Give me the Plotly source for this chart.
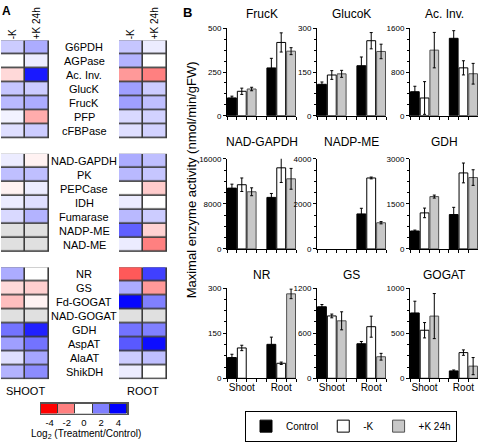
import plotly.graph_objects as go

W, H = 478, 446
FONT = "Liberation Sans, Arial, sans-serif"

# ---------------- Panel A data (log2 Treatment/Control) ----------------
hm_groups = [
    ["G6PDH", "AGPase", "Ac. Inv.", "GlucK", "FrucK", "PFP", "cFBPase"],
    ["NAD-GAPDH", "PK", "PEPCase", "IDH", "Fumarase", "NADP-ME", "NAD-ME"],
    ["NR", "GS", "Fd-GOGAT", "NAD-GOGAT", "GDH", "AspAT", "AlaAT", "ShikDH"],
]
hm_columns = ["-K", "+K 24h"]
tissue_labels = ["SHOOT", "ROOT"]
shoot_minusK = [0.8, 0.0, -0.6, 0.9, 1.1, 0.2, 0.5,
                0.3, 1.0, -0.2, 0.3, 0.6, None, None,
                1.3, -0.6, -1.0, None, 2.2, 1.5, 0.5, 1.2]
shoot_plusK = [1.3, 0.3, 3.6, 0.8, 1.3, -1.3, 0.8,
               -0.2, 1.0, 0.3, 0.5, 1.2, None, None,
               0.0, -0.75, -0.2, None, 3.5, 2.2, 1.4, 1.8]
root_minusK = [0.9, 1.2, -1.6, 1.5, 1.5, 0.6, 0.5,
               1.3, 1.1, 0.0, 0.3, 1.1, 2.5, 0.3,
               -2.6, 1.3, 3.9, None, 2.2, 2.6, 0.8, 0.3]
root_plusK = [0.3, 0.0, -2.0, 0.8, 1.0, 0.7, 0.7,
              1.0, 0.9, -0.8, 0.0, 0.8, -0.7, -2.0,
              3.0, -1.6, 2.0, None, 2.0, 3.8, 1.0, 0.0]
legend_vals = [-4, -2, 0, 2, 4]

# ---------------- Panel B data (nmol/min/gFW) ----------------
bar_enzymes = ["FrucK", "GlucoK", "Ac. Inv.", "NAD-GAPDH", "NADP-ME", "GDH",
               "NR", "GS", "GOGAT"]
tissues = ["Shoot", "Root"]
conditions = ["Control", "-K", "+K 24h"]
axis_max = [500, 300, 1600, 16000, 4000, 3000, 300, 1200, 1000]
control_mean = [[102, 274], [108, 172], [440, 1420], [10800, 9150], [None, 1555],
                [598, 1145], [69, 113], [952, 460], [725, 82]]
control_err = [[10, 55], [8, 30], [100, 140], [700, 700], [None, 250],
               [30, 240], [11, 24], [30, 30], [130, 10]]
minusK_mean = [[140, 420], [140, 258], [325, 878], [11400, 14400], [None, 3150],
               [1200, 2530], [101, 50], [830, 687], [533, 285]]
minusK_err = [[18, 55], [15, 28], [300, 130], [1200, 2600], [None, 40],
              [160, 330], [9, 4], [25, 140], [85, 30]]
plusK_mean = [[153, 370], [144, 221], [1203, 770], [10150, 12450], [None, 1163],
              [1743, 2376], [None, 281], [765, 287], [690, 135]]
plusK_err = [[10, 20], [12, 25], [325, 190], [700, 1850], [None, 50],
             [50, 260], [None, 16], [120, 45], [250, 95]]


def px_x(p):
    return p / W


def px_y(p):
    return 1 - p / H


def note(text, x, y, size, yref="paper", **kw):
    d = dict(text=text, x=x, y=y, xref="paper", yref=yref, showarrow=False,
             xanchor="center", yanchor="middle", font=dict(size=size))
    d.update(kw)
    return d


fig = go.Figure()
annotations = []
layout = dict(
    width=W, height=H, margin=dict(l=0, r=0, t=0, b=0),
    paper_bgcolor="white", plot_bgcolor="white",
    font=dict(family=FONT, color="black", size=10),
    barmode="overlay", showlegend=True,
)

# ---------------- Panel A heatmaps ----------------
GAP = 1.12
row_pos = []
start = -0.5
for g in hm_groups:
    row_pos.append([start + 0.5 + i for i in range(len(g))])
    start = start + len(g) + GAP
y_bottom = start - GAP

rwb = [[0, "#ff0000"], [0.5, "#ffffff"], [1, "#0000ff"]]
border = [[0, "#3c3c3c"], [1, "#3c3c3c"]]
na_scale = [[0, "#e0e0e0"], [1, "#e0e0e0"]]

tissue_data = [(shoot_minusK, shoot_plusK), (root_minusK, root_plusK)]
hm_domains = [(1, 49), (119, 167)]
for t, (a_vals, b_vals) in enumerate(tissue_data):
    ax = "" if t == 0 else "2"
    off = 0
    for gi, g in enumerate(hm_groups):
        n = len(g)
        av = a_vals[off:off + n]
        bv = b_vals[off:off + n]
        off += n
        fig.add_trace(go.Heatmap(z=[[0, 0] for _ in range(n)], x=[0, 1], y=row_pos[gi],
                                 colorscale=border, showscale=False, hoverinfo="skip",
                                 xaxis="x" + ax, yaxis="y" + ax))
        fig.add_trace(go.Heatmap(z=[[a, b] for a, b in zip(av, bv)], x=[0, 1], y=row_pos[gi],
                                 colorscale=rwb, zmin=-4, zmax=4, showscale=False,
                                 xgap=1.6, ygap=1.6, xaxis="x" + ax, yaxis="y" + ax))
        fig.add_trace(go.Heatmap(z=[[1 if a is None else None, 1 if b is None else None]
                                    for a, b in zip(av, bv)], x=[0, 1], y=row_pos[gi],
                                 colorscale=na_scale, showscale=False, zmin=0, zmax=1,
                                 xgap=1.6, ygap=1.6, xaxis="x" + ax, yaxis="y" + ax))
    d0, d1 = hm_domains[t]
    layout["xaxis" + ax] = dict(domain=[px_x(d0), px_x(d1)], anchor="y" + ax,
                                range=[-0.5, 1.5], side="top", tickvals=[0, 1],
                                ticktext=hm_columns, tickangle=-90, ticks="",
                                showgrid=False, zeroline=False, showline=False,
                                tickfont=dict(size=10), fixedrange=True)
    layout["yaxis" + ax] = dict(domain=[px_y(383), px_y(37)], anchor="x" + ax,
                                range=[y_bottom, -0.5], showticklabels=False,
                                showgrid=False, zeroline=False, ticks="", fixedrange=True)
    annotations.append(note(tissue_labels[t], px_x((d0 + d1) / 2), px_y(395), 11))

# enzyme labels between the two heatmaps
for gi, g in enumerate(hm_groups):
    for name, yv in zip(g, row_pos[gi]):
        annotations.append(note(name, px_x(84), yv, 11, yref="y"))

# colour legend
fig.add_trace(go.Heatmap(z=[[0] * len(legend_vals)], x=legend_vals, y=[0],
                         colorscale=border, showscale=False, hoverinfo="skip",
                         xaxis="x3", yaxis="y3"))
fig.add_trace(go.Heatmap(z=[legend_vals], x=legend_vals, y=[0], colorscale=rwb,
                         zmin=-4, zmax=4, showscale=False, xgap=1, ygap=0,
                         xaxis="x3", yaxis="y3"))
layout["xaxis3"] = dict(domain=[px_x(41), px_x(127)], anchor="y3", range=[-5, 5],
                        tickvals=legend_vals, ticktext=[str(v) for v in legend_vals],
                        ticks="", showline=True, mirror=True, linecolor="#555555",
                        linewidth=1.5, showgrid=False, zeroline=False,
                        tickfont=dict(size=9.5), fixedrange=True)
layout["yaxis3"] = dict(domain=[px_y(418), px_y(408)], anchor="x3", range=[-0.5, 0.5],
                        showticklabels=False, ticks="", showline=True, mirror=True,
                        linecolor="#555555", linewidth=1.5, showgrid=False,
                        zeroline=False, fixedrange=True)
annotations.append(note("Log<sub>2</sub> (Treatment/Control)", px_x(86), px_y(439), 10))

# ---------------- Panel B bar charts ----------------
col_dom = [(227, 296), (317, 386), (410, 478)]
row_dom = [(25, 114), (158, 250), (290, 382)]
title_y = [10, 141, 277]
styles = [("black", "black"), ("white", "black"), ("#c8c8c8", "#505050")]
means = [control_mean, minusK_mean, plusK_mean]
errs = [control_err, minusK_err, plusK_err]

for k, enz in enumerate(bar_enzymes):
    n = 4 + k
    r, c = divmod(k, 3)
    for ci, cond in enumerate(conditions):
        fill, line = styles[ci]
        fig.add_trace(go.Bar(
            x=[ci + 4 * ti for ti in range(len(tissues))], y=means[ci][k],
            width=0.9, name=cond, legendgroup=cond, showlegend=(k == 0),
            marker=dict(color=fill, line=dict(color=line, width=1)),
            error_y=dict(type="data", array=errs[ci][k], color="black",
                         thickness=1, width=1.5),
            xaxis=f"x{n}", yaxis=f"y{n}"))
    x0, x1 = col_dom[c]
    y0, y1 = row_dom[r]
    ymax = axis_max[k]
    layout[f"xaxis{n}"] = dict(
        domain=[px_x(x0), px_x(x1)], anchor=f"y{n}", range=[-0.5, 6.5],
        tickvals=[1 + 4 * ti for ti in range(len(tissues))], ticktext=tissues,
        showticklabels=(r == 2), ticks="", showline=True, linecolor="black",
        linewidth=1, showgrid=False, zeroline=False, tickfont=dict(size=10),
        minor=dict(tickmode="array", tickvals=[i - 0.5 for i in range(8)],
                   ticks="outside", ticklen=3, tickcolor="black", showgrid=False),
        fixedrange=True)
    layout[f"yaxis{n}"] = dict(
        domain=[px_y(y1), px_y(y0)], anchor=f"x{n}", range=[0, ymax],
        tickvals=[0, ymax / 2, ymax], ticktext=[f"{v:g}" for v in (0, ymax / 2, ymax)],
        ticks="outside", ticklen=3, tickcolor="black", showline=True,
        linecolor="black", linewidth=1, showgrid=False, zeroline=False,
        tickfont=dict(size=8),
        minor=dict(tickmode="linear", tick0=0, dtick=ymax / 8, ticks="outside",
                   ticklen=2, tickcolor="black", showgrid=False),
        fixedrange=True)
    annotations.append(note(enz, px_x((x0 + x1) / 2), px_y(title_y[r]), 12))

annotations.append(note("Maximal enzyme activity (nmol/min/gFW)", px_x(191), px_y(180), 13,
                        textangle=-90))
annotations.append(note("<b>A</b>", px_x(6), px_y(7), 12))
annotations.append(note("<b>B</b>", px_x(187), px_y(9), 13))

layout["annotations"] = annotations
layout["legend"] = dict(orientation="h", x=px_x(351), y=px_y(415), xanchor="center",
                        yanchor="top", bordercolor="black", borderwidth=1,
                        bgcolor="white", font=dict(size=10), itemwidth=30,
                        traceorder="normal")
fig.update_layout(**layout)
fig.write_html("out.html",
               config={"displayModeBar": False, "staticPlot": True},
               post_script="document.body.style.margin='0';"
                           "document.body.style.overflow='hidden';")
